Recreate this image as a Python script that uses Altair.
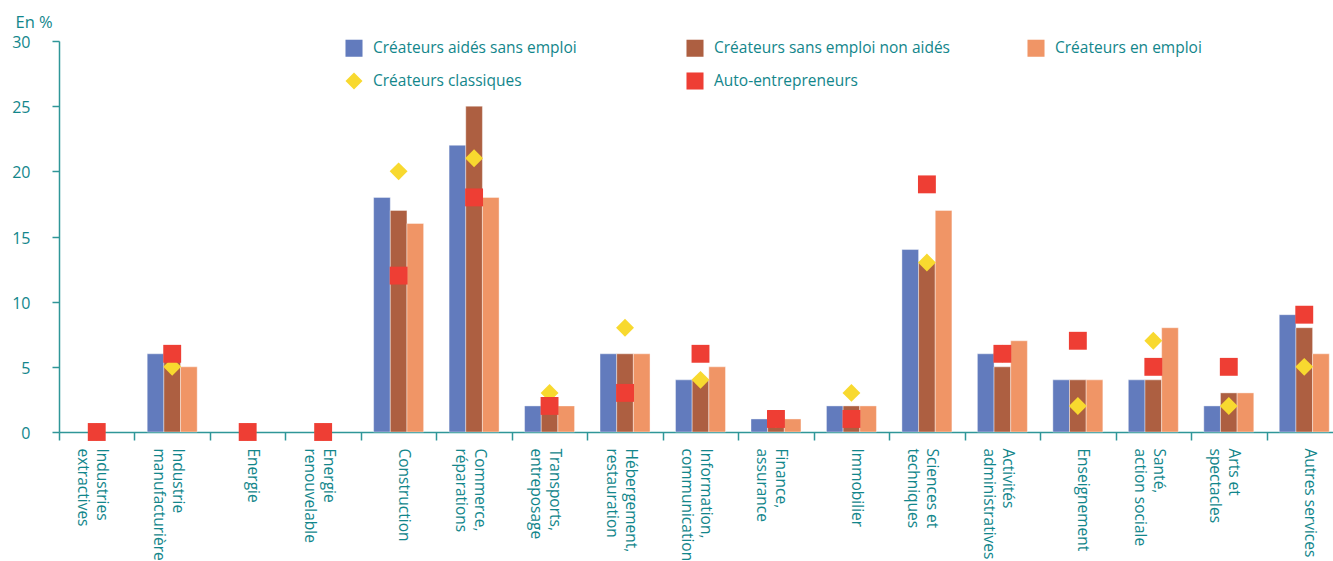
import altair as alt
import pandas as pd

# Secteurs d'activité (retour à la ligne dans les libellés d'axe)
secteurs = [
    "Industries\nextractives",
    "Industrie\nmanufacturière",
    "Energie",
    "Energie\nrenouvelable",
    "Construction",
    "Commerce,\nréparations",
    "Transports,\nentreposage",
    "Hébergement,\nrestauration",
    "Information,\ncommunication",
    "Finance,\nassurance",
    "Immobilier",
    "Sciences et\ntechniques",
    "Activités\nadministratives",
    "Enseignement",
    "Santé,\naction sociale",
    "Arts et\nspectacles",
    "Autres services",
]

# Répartition (en %) par type de créateur
aides_sans_emploi     = [0, 6, 0, 0, 18, 22, 2, 6, 4, 1, 2, 14, 6, 4, 4, 2, 9]
sans_emploi_non_aides = [0, 6, 0, 0, 17, 25, 2, 6, 4, 1, 2, 13, 5, 4, 4, 3, 8]
en_emploi             = [0, 5, 0, 0, 16, 18, 2, 6, 5, 1, 2, 17, 7, 4, 8, 3, 6]
classiques            = [0, 5, 0, 0, 20, 21, 3, 8, 4, 1, 3, 13, 6, 2, 7, 2, 5]
auto_entrepreneurs    = [0, 6, 0, 0, 12, 18, 2, 3, 6, 1, 1, 19, 6, 7, 5, 5, 9]

series_barres = ["Créateurs aidés sans emploi", "Créateurs sans emploi non aidés", "Créateurs en emploi"]
series_points = ["Créateurs classiques", "Auto-entrepreneurs"]
toutes_series = series_barres + series_points
couleurs = ["#627bbd", "#ad5f41", "#f09566", "#f8d92f", "#ee3e34"]
formes = ["square", "square", "square", "diamond", "square"]

TEAL = "#12868b"
AXE = "#2f9698"
POLICE = "Open Sans"

LARGEUR_AXE = 1283          # étendue de l'axe des secteurs (dépasse légèrement à droite)
PAS = LARGEUR_AXE / len(secteurs)

rows_b = []
for nom, vals in zip(series_barres, [aides_sans_emploi, sans_emploi_non_aides, en_emploi]):
    for s, v in zip(secteurs, vals):
        rows_b.append({"secteur": s, "série": nom, "valeur": v})
barres_df = pd.DataFrame(rows_b)

rows_p = []
for nom, vals in zip(series_points, [classiques, auto_entrepreneurs]):
    for s, v in zip(secteurs, vals):
        rows_p.append({"secteur": s, "série": nom, "valeur": v})
points_df = pd.DataFrame(rows_p)

legende = alt.Legend(
    title=None, orient="none", legendX=286, legendY=-2,
    direction="horizontal", columns=3, columnPadding=77, rowPadding=15,
    gridAlign="all", symbolSize=290, symbolStrokeWidth=0, symbolOpacity=1,
    labelFontSize=15.5, labelColor=TEAL, labelFont=POLICE, labelOffset=10,
    labelLimit=0, padding=0,
)

couleur = alt.Color("série:N", scale=alt.Scale(domain=toutes_series, range=couleurs), legend=legende)

# graduations entre les secteurs : décalées d'un demi-pas depuis le centre
x_enc = alt.X(
    "secteur:N", sort=secteurs,
    scale=alt.Scale(domain=secteurs, range=[0, LARGEUR_AXE], paddingInner=0.3375, paddingOuter=0.16875),
    axis=alt.Axis(
        title=None, labelAngle=90, labelExpr="split(datum.label, '\\n')",
        labelFont=POLICE, labelFontSize=15.5, labelColor=TEAL, labelAlign="left",
        labelBaseline="middle", labelPadding=8, labelOffset=5 + PAS / 2,
        labelLineHeight=19, labelLimit=0, ticks=True, tickSize=8,
        tickOffset=-PAS / 2, tickColor=AXE, tickWidth=1.5,
        domainColor=AXE, domainWidth=1.5,
    ),
)

y_enc = alt.Y(
    "valeur:Q",
    scale=alt.Scale(domain=[0, 30], nice=False),
    axis=alt.Axis(
        title="En %", titleAngle=0, titleX=-44, titleY=-14, titleAlign="left",
        titleBaseline="alphabetic", titleFont=POLICE, titleFontSize=16.5,
        titleFontWeight="normal", titleColor=TEAL,
        values=[0, 5, 10, 15, 20, 25, 30], labelFont=POLICE, labelFontSize=16,
        labelColor=TEAL, labelPadding=22, labelOffset=1.5, tickSize=7, tickColor=AXE,
        tickWidth=1.5, domainColor=AXE, domainWidth=1.5, grid=False,
    ),
)

barres = alt.Chart(barres_df).transform_filter(
    "datum.valeur > 0"
).mark_bar(
    stroke="white", strokeWidth=0.8, strokeOpacity=0.5
).encode(
    x=x_enc,
    xOffset=alt.XOffset("série:N", sort=series_barres,
                        scale=alt.Scale(domain=series_barres, paddingInner=0, paddingOuter=0)),
    y=y_enc,
    color=couleur,
)

points = alt.Chart(points_df).mark_point(filled=True, opacity=1, size=320).encode(
    x=x_enc,
    y=y_enc,
    color=couleur,
    shape=alt.Shape("série:N", scale=alt.Scale(domain=toutes_series, range=formes), legend=legende),
)

chart = alt.layer(barres, points).properties(
    width=1274,
    height=391,
    autosize=alt.AutoSizeParams(type="none"),
    padding={"left": 59, "top": 41, "right": 0, "bottom": 129},
).configure_view(stroke=None)

chart.save("out.html", embed_options={"renderer": "svg", "actions": False})
